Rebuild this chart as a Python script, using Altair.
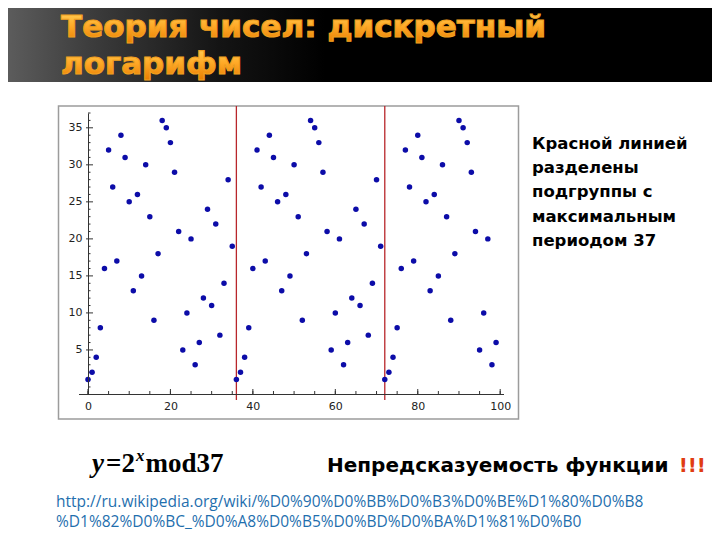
import altair as alt
import pandas as pd

# ---- data: y = 2^x mod 37 for x = 0..99 ----
x_vals = list(range(100))
y_vals = [1, 2, 4, 8, 16, 32, 27, 17, 34, 31, 25, 13, 26, 15, 30, 23, 9, 18, 36, 35,
          33, 29, 21, 5, 10, 20, 3, 6, 12, 24, 11, 22, 7, 14, 28, 19,
          1, 2, 4, 8, 16, 32, 27, 17, 34, 31, 25, 13, 26, 15, 30, 23, 9, 18, 36, 35,
          33, 29, 21, 5, 10, 20, 3, 6, 12, 24, 11, 22, 7, 14, 28, 19,
          1, 2, 4, 8, 16, 32, 27, 17, 34, 31, 25, 13, 26, 15, 30, 23, 9, 18, 36, 35,
          33, 29, 21, 5, 10, 20, 3, 6]
separators = [36, 72]
x_labels = [0, 20, 40, 60, 80, 100]
x_minor = [0, 5, 10, 15, 20, 25, 30, 35, 40, 45, 50, 55, 60, 65, 70, 75, 80, 85, 90, 95, 100]
y_labels = [5, 10, 15, 20, 25, 30, 35]
y_minor = [0, 1, 2, 3, 4, 6, 7, 8, 9, 11, 12, 13, 14, 16, 17, 18, 19, 21, 22, 23, 24,
           26, 27, 28, 29, 31, 32, 33, 34, 36, 37]

title_lines = ["Теория чисел:  дискретный", "логарифм"]
note_lines = ["Красной линией", "разделены", "подгруппы с", "максимальным", "периодом 37"]
bottom_text = "Непредсказуемость функции"
url_lines = ["http://ru.wikipedia.org/wiki/%D0%90%D0%BB%D0%B3%D0%BE%D1%80%D0%B8",
             "%D1%82%D0%BC_%D0%A8%D0%B5%D0%BD%D0%BA%D1%81%D0%B0"]

df = pd.DataFrame({"x": x_vals, "y": y_vals})
sep_df = pd.DataFrame({"s": separators})
xmin_df = pd.DataFrame({"t": x_minor})
xmaj_df = pd.DataFrame({"t": x_labels})
ymin_df = pd.DataFrame({"t": y_minor})
ymaj_df = pd.DataFrame({"t": y_labels})
one = alt.Data(values=[{"k": 1}])

# ---- geometry ----
W, H = 425, 281
PADL, PADT = 70.5, 105
YAX = 9.5  # pixel position of x=0 inside the plot

xs = alt.Scale(domain=[-2.3, 100.8], nice=False, zero=False)
ys = alt.Scale(domain=[-0.95, 37.0], nice=False, zero=False)
xaxis = alt.Axis(values=x_labels, ticks=False, grid=False, domainColor="#333333",
                 domainWidth=1, labelFont="DejaVu Sans", labelFontSize=11,
                 labelColor="#222222", labelPadding=6, title=None, zindex=1)
yaxis = alt.Axis(values=y_labels, ticks=False, grid=False, domainColor="#333333",
                 domainWidth=1, labelFont="DejaVu Sans", labelFontSize=11,
                 labelColor="#222222", labelPadding=6, offset=-YAX, title=None, zindex=1)

layers = []

# title bar
bar_grad = alt.LinearGradient(gradient="linear", x1=0, x2=1, y1=0, y2=0, stops=[
    alt.GradientStop(offset=0, color="#5c5c5c"),
    alt.GradientStop(offset=0.12, color="#3c3c3c"),
    alt.GradientStop(offset=0.3, color="#141414"),
    alt.GradientStop(offset=0.45, color="#000000"),
    alt.GradientStop(offset=1, color="#000000")])
layers.append(alt.Chart(one).mark_rect(color=bar_grad).encode(
    x=alt.value(-PADL), x2=alt.value(704 - PADL), y=alt.value(-PADT), y2=alt.value(-31)))

title_grad = alt.LinearGradient(gradient="linear", x1=0, x2=0, y1=0, y2=1, stops=[
    alt.GradientStop(offset=0, color="#ffd862"),
    alt.GradientStop(offset=0.5, color="#ffaa28"),
    alt.GradientStop(offset=1, color="#e87c00")])
for line, by in zip(title_lines, [-76, -39.5]):
    layers.append(alt.Chart(one).mark_text(
        text=line, font="DejaVu Sans", fontWeight="bold", fontSize=31, align="left",
        baseline="alphabetic", color=title_grad, stroke="#f0a020", strokeWidth=1.1).encode(
        x=alt.value(-17.5), y=alt.value(by)))

# image frame
layers.append(alt.Chart(one).mark_rect(fill="white", stroke="#9c9c9c", strokeWidth=1.5).encode(
    x=alt.value(-20), x2=alt.value(440), y=alt.value(-7), y2=alt.value(306)))

# tick marks (inward, as in the original)
layers.append(alt.Chart(xmin_df).mark_rule(color="#333333", strokeWidth=1).encode(
    x=alt.X("t:Q", scale=xs, axis=xaxis), y=alt.value(H), y2=alt.value(H - 3)))
layers.append(alt.Chart(xmaj_df).mark_rule(color="#333333", strokeWidth=1).encode(
    x=alt.X("t:Q", scale=xs, axis=xaxis), y=alt.value(H), y2=alt.value(H - 5)))
layers.append(alt.Chart(ymin_df).mark_rule(color="#333333", strokeWidth=1).encode(
    y=alt.Y("t:Q", scale=ys, axis=yaxis), x=alt.value(YAX), x2=alt.value(YAX + 2.5)))
layers.append(alt.Chart(ymaj_df).mark_rule(color="#333333", strokeWidth=1).encode(
    y=alt.Y("t:Q", scale=ys, axis=yaxis), x=alt.value(YAX - 2), x2=alt.value(YAX + 5)))

# red separator lines
layers.append(alt.Chart(sep_df).mark_rule(color="#b8262b", strokeWidth=1.3).encode(
    x=alt.X("s:Q", scale=xs, axis=xaxis), y=alt.value(-7), y2=alt.value(H + 6)))

# points
layers.append(alt.Chart(df).mark_circle(size=30, color="#0c0ca8", opacity=1).encode(
    x=alt.X("x:Q", scale=xs, axis=xaxis), y=alt.Y("y:Q", scale=ys, axis=yaxis)))

# right note
for line, by in zip(note_lines, [36.3, 60.3, 84.3, 108.5, 132.5]):
    layers.append(alt.Chart(one).mark_text(
        text=line, font="DejaVu Sans", fontWeight="bold", fontSize=16.5, align="left",
        baseline="alphabetic", color="#000000").encode(x=alt.value(453.5), y=alt.value(by)))

# formula y=2^x mod37
FY = 359
for txt, fx, fs, sty, dy in [("y", 13.5, 27, "italic", 0), ("=2", 27.5, 27, "normal", 0),
                             ("x", 57.5, 17, "italic", -11), ("mod37", 67, 27, "normal", 0)]:
    layers.append(alt.Chart(one).mark_text(
        text=txt, font="Liberation Serif", fontWeight="bold", fontStyle=sty, fontSize=fs,
        align="left", baseline="alphabetic", color="#000000").encode(
        x=alt.value(fx), y=alt.value(FY + dy)))

layers.append(alt.Chart(one).mark_text(
    text=bottom_text, font="DejaVu Sans", fontWeight="bold", fontSize=20, align="left",
    baseline="alphabetic", color="#000000").encode(x=alt.value(248.5), y=alt.value(FY)))
layers.append(alt.Chart(one).mark_text(
    text="!!!", font="DejaVu Sans", fontWeight="bold", fontSize=20, align="right",
    baseline="alphabetic", color="#e03c12").encode(x=alt.value(627.5), y=alt.value(FY)))

# url
for line, by in zip(url_lines, [394, 414]):
    layers.append(alt.Chart(one).mark_text(
        text=line, font="Open Sans", fontSize=15.5, align="left",
        baseline="alphabetic", color="#1f6fae").encode(x=alt.value(-22.5), y=alt.value(by)))

chart = alt.layer(*layers).properties(
    width=W, height=H,
    padding={"left": PADL, "top": PADT, "right": 704 - PADL - W, "bottom": 524 - PADT - H},
    autosize=alt.AutoSizeParams(type="none"),
).configure(background="white").configure_view(stroke=None)

chart.save("out.html", embed_options={"renderer": "svg", "actions": False})
